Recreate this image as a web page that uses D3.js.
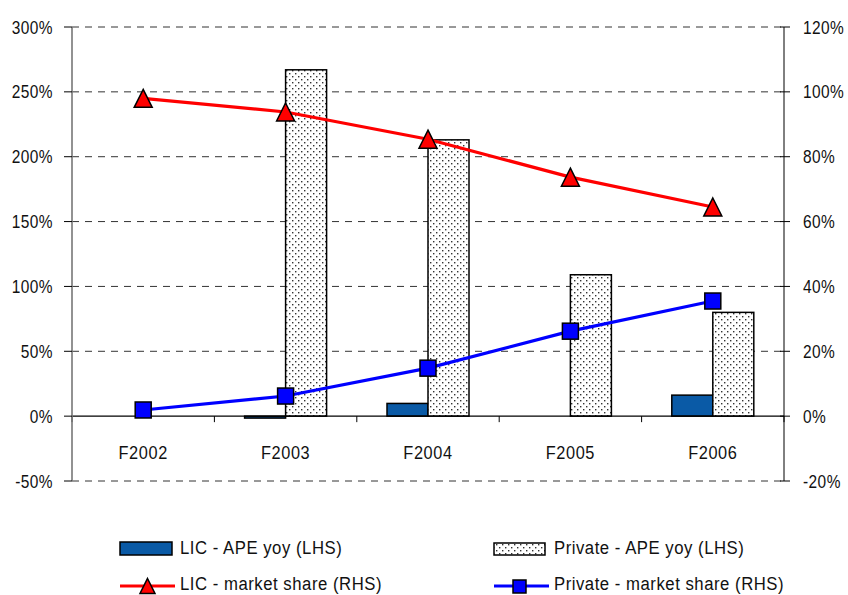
<!DOCTYPE html>
<html>
<head>
<meta charset="utf-8">
<script src="https://cdn.jsdelivr.net/npm/d3@7"></script>
<style>
  html, body { margin: 0; padding: 0; background: #fff; }
  svg { display: block; }
  text { font-family: "Liberation Sans Narrow", "Arial Narrow", "Liberation Sans", Arial, sans-serif; fill: #111; }
</style>
</head>
<body>
<svg id="chart" width="848" height="595"></svg>
<script>
const categories = ["F2002", "F2003", "F2004", "F2005", "F2006"];
const licApe = [null, -1.5, 9.8, null, 16.2];
const privApe = [null, 267, 213, 109, 80];
const licShare = [98, 93.8, 85.4, 73.7, 64.5];
const privShare = [1.9, 6.2, 14.8, 26.2, 35.5];
const leftTicks = [-50, 0, 50, 100, 150, 200, 250, 300];
const rightTicks = [-20, 0, 20, 40, 60, 80, 100, 120];
const legendLabels = ["LIC - APE yoy (LHS)", "Private - APE yoy (LHS)", "LIC - market share (RHS)", "Private - market share (RHS)"];

const svg = d3.select("#chart");
const L = 72, R = 784, T = 27, B = 481;
const SX = 0.86; // horizontal condensing of text

const x = d3.scaleBand().domain(categories).range([L, R]).padding(0);
const yL = d3.scaleLinear().domain([-50, 300]).range([B, T]);
const yR = d3.scaleLinear().domain([-20, 120]).range([B, T]);

// pattern for private bars
const defs = svg.append("defs");
const pat = defs.append("pattern").attr("id", "dots").attr("patternUnits", "userSpaceOnUse")
  .attr("width", 6).attr("height", 6);
pat.append("rect").attr("width", 6).attr("height", 6).attr("fill", "#fff");
pat.append("rect").attr("x", 1).attr("y", 1).attr("width", 1.4).attr("height", 1.4).attr("fill", "#333");
pat.append("rect").attr("x", 4).attr("y", 4).attr("width", 1.4).attr("height", 1.4).attr("fill", "#333");

// gridlines
svg.append("g").selectAll("line").data(leftTicks.filter(d => d !== 0)).join("line")
  .attr("x1", L).attr("x2", R)
  .attr("y1", d => yL(d)).attr("y2", d => yL(d))
  .attr("stroke", "#333").attr("stroke-width", 1).attr("stroke-dasharray", "7,6");

// bars
const bw = 41;
svg.append("g").selectAll("rect").data(categories.map((c, i) => ({c, v: licApe[i]})).filter(d => d.v !== null)).join("rect")
  .attr("x", d => x(d.c) + x.bandwidth() / 2 - bw)
  .attr("width", bw)
  .attr("y", d => Math.min(yL(d.v), yL(0)))
  .attr("height", d => Math.max(Math.abs(yL(d.v) - yL(0)), 1))
  .attr("fill", "#0a5aa6").attr("stroke", "#000").attr("stroke-width", 1.5);

svg.append("g").selectAll("rect").data(categories.map((c, i) => ({c, v: privApe[i]})).filter(d => d.v !== null)).join("rect")
  .attr("x", d => x(d.c) + x.bandwidth() / 2)
  .attr("width", bw)
  .attr("y", d => yL(d.v))
  .attr("height", d => yL(0) - yL(d.v))
  .attr("fill", "url(#dots)").attr("stroke", "#000").attr("stroke-width", 1.5);

// x axis at zero
const xAxisG = svg.append("g");
xAxisG.append("line").attr("x1", L).attr("x2", R).attr("y1", yL(0)).attr("y2", yL(0))
  .attr("stroke", "#000").attr("stroke-width", 1.3);
const bounds = categories.map(c => x(c)).concat([R]);
xAxisG.selectAll("line.tk").data(bounds).join("line").attr("class", "tk")
  .attr("x1", d => d).attr("x2", d => d).attr("y1", yL(0)).attr("y2", yL(0) + 6)
  .attr("stroke", "#000").attr("stroke-width", 1);
xAxisG.selectAll("text").data(categories).join("text")
  .attr("transform", d => `translate(${x(d) + x.bandwidth() / 2},459) scale(${SX},1)`)
  .attr("text-anchor", "middle").attr("font-size", 19).attr("letter-spacing", "0.7px")
  .text(d => d);

// left axis
const la = svg.append("g");
la.append("line").attr("x1", L).attr("x2", L).attr("y1", T).attr("y2", B)
  .attr("stroke", "#777").attr("stroke-width", 1.6);
la.selectAll("line.tk").data(leftTicks).join("line").attr("class", "tk")
  .attr("x1", L - 8).attr("x2", L).attr("y1", d => yL(d)).attr("y2", d => yL(d))
  .attr("stroke", "#000").attr("stroke-width", 1);
la.selectAll("text").data(leftTicks).join("text")
  .attr("transform", d => `translate(53,${yL(d) + 6.5}) scale(${SX},1)`).attr("text-anchor", "end")
  .attr("font-size", 18).attr("letter-spacing", "0.5px")
  .text(d => d + "%");

// right axis
const ra = svg.append("g");
ra.append("line").attr("x1", R).attr("x2", R).attr("y1", T).attr("y2", B)
  .attr("stroke", "#000").attr("stroke-width", 1);
ra.selectAll("line.tk").data(rightTicks).join("line").attr("class", "tk")
  .attr("x1", R - 4).attr("x2", R + 6).attr("y1", d => yR(d)).attr("y2", d => yR(d))
  .attr("stroke", "#000").attr("stroke-width", 1);
ra.selectAll("text").data(rightTicks).join("text")
  .attr("transform", d => `translate(803,${yR(d) + 6.5}) scale(${SX},1)`).attr("text-anchor", "start")
  .attr("font-size", 18).attr("letter-spacing", "0.5px")
  .text(d => d + "%");

// lines
const cx = c => x(c) + x.bandwidth() / 2;
const lineGen = arr => d3.line().x((d, i) => cx(categories[i])).y(d => yR(d))(arr);
svg.append("path").attr("d", lineGen(licShare)).attr("fill", "none").attr("stroke", "#ff0000").attr("stroke-width", 3.2);
svg.append("path").attr("d", lineGen(privShare)).attr("fill", "none").attr("stroke", "#0000ff").attr("stroke-width", 3.2);

const tri = (s) => `M0,${-s/2}L${s/2},${s/2}L${-s/2},${s/2}Z`;
svg.append("g").selectAll("path").data(licShare).join("path")
  .attr("transform", (d, i) => `translate(${cx(categories[i])},${yR(d)})`)
  .attr("d", tri(18)).attr("fill", "#ff0000").attr("stroke", "#000").attr("stroke-width", 1.5).attr("stroke-linejoin", "miter");
svg.append("g").selectAll("rect").data(privShare).join("rect")
  .attr("x", (d, i) => cx(categories[i]) - 8).attr("y", d => yR(d) - 8)
  .attr("width", 16).attr("height", 16)
  .attr("fill", "#0000ff").attr("stroke", "#000").attr("stroke-width", 1.5);

// legend
const lg = svg.append("g");
lg.append("rect").attr("x", 120).attr("y", 542).attr("width", 52).attr("height", 13)
  .attr("fill", "#0a5aa6").attr("stroke", "#000").attr("stroke-width", 1.5);
lg.append("rect").attr("x", 494).attr("y", 543).attr("width", 51).attr("height", 12)
  .attr("fill", "url(#dots)").attr("stroke", "#000").attr("stroke-width", 1.5);
lg.append("line").attr("x1", 120).attr("x2", 175).attr("y1", 586).attr("y2", 586)
  .attr("stroke", "#ff0000").attr("stroke-width", 3);
lg.append("path").attr("transform", "translate(147.5,586)").attr("d", tri(15))
  .attr("fill", "#ff0000").attr("stroke", "#000").attr("stroke-width", 1.5);
lg.append("line").attr("x1", 494).attr("x2", 549).attr("y1", 586).attr("y2", 586)
  .attr("stroke", "#0000ff").attr("stroke-width", 3);
lg.append("rect").attr("x", 513).attr("y", 580).attr("width", 13).attr("height", 13)
  .attr("fill", "#0000ff").attr("stroke", "#000").attr("stroke-width", 1.5);
const lpos = [[180, 554], [554, 554], [180, 590], [554, 590]];
lg.selectAll("text").data(legendLabels).join("text")
  .attr("transform", (d, i) => `translate(${lpos[i][0]},${lpos[i][1]}) scale(0.88,1)`)
  .attr("font-size", 19).attr("letter-spacing", "0.6px")
  .text(d => d);
</script>
</body>
</html>
